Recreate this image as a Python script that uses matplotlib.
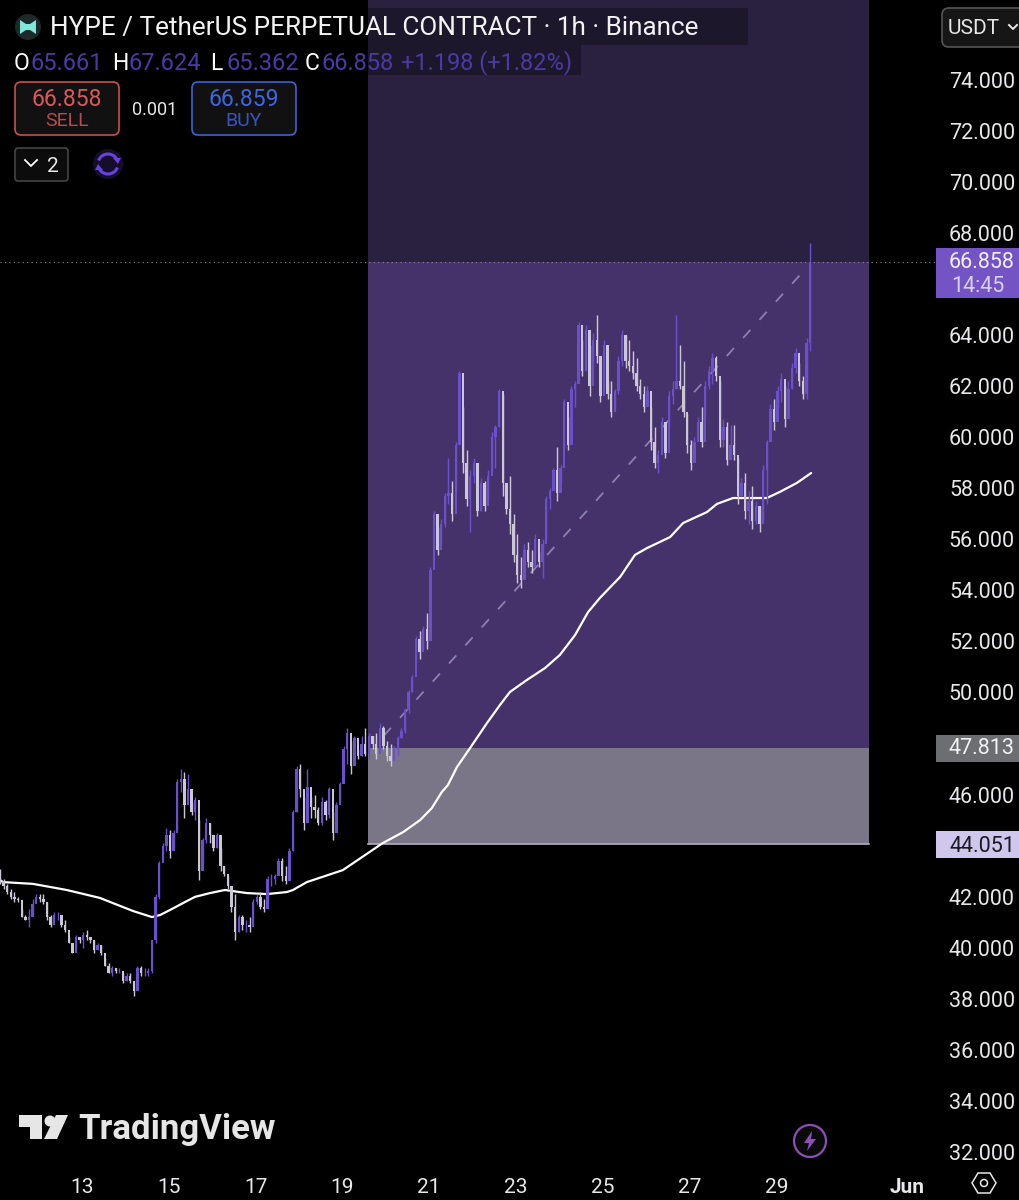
import numpy as np
import matplotlib

matplotlib.use('agg')
from matplotlib import pyplot as plt
from matplotlib.patches import Arc, Circle, FancyBboxPatch, Polygon, Rectangle

plt.rcParams['font.family'] = ['Roboto', 'DejaVu Sans']

# 2 hour bars, day of month for the first one
first_bar_day = 11.11
bar_hours = 2

highs = [
    43.1, 42.7, 42.5, 42.3, 42.2, 42.0, 41.5, 41.3, 41.5, 41.9, 42.1, 42.1, 42.1, 41.8, 41.3, 41.4, 41.4, 41.2, 41.1, 40.4,
    40.2, 40.5, 40.4, 40.6, 40.7, 40.4, 40.3, 40.2, 40.1, 39.6, 39.4, 39.3, 39.2, 39.2, 39.0, 39.0, 39.0, 38.7, 39.3, 39.3,
    39.2, 39.2, 40.3, 42.1, 43.4, 44.1, 44.7, 44.6, 44.6, 46.6, 47.0, 46.9, 46.8, 45.7, 45.9, 45.0, 44.3, 45.1, 44.9, 44.3,
    44.5, 43.9, 43.2, 42.8, 42.3, 42.1, 41.3, 41.3, 41.1, 41.2, 41.9, 42.1, 42.2, 41.9, 42.8, 42.9, 42.9, 43.5, 43.5, 43.2,
    43.9, 45.4, 47.1, 47.2, 45.9, 47.0, 45.9, 46.0, 45.5, 45.9, 45.8, 46.3, 45.3, 45.7, 46.5, 47.9, 48.6, 48.1, 48.3, 47.8,
    48.3, 48.6, 48.4, 48.3, 48.4, 48.8, 48.7, 48.1, 48.0, 47.9, 48.3, 48.6, 49.4, 50.1, 50.7, 52.2, 52.4, 52.6, 53.1,
    54.9, 57.1, 56.5, 56.8, 57.8, 59.2, 58.3, 59.8, 62.6, 61.2, 59.5, 58.7, 59.2, 58.6, 58.4, 58.3, 58.7, 60.2, 60.5, 61.9,
    61.7, 58.2, 58.5, 57.0, 56.2, 55.3, 55.8, 55.9, 55.6, 56.2, 55.5, 56.0, 57.7, 58.0, 58.8, 59.6, 58.9, 61.5, 60.8, 62.0,
    62.2, 64.5, 63.8, 64.4, 63.6, 64.1, 64.8, 63.1, 63.8, 62.2, 62.2, 61.9, 63.2, 64.2, 64.0, 63.8, 63.4, 63.1, 62.3, 62.0,
    62.0, 61.2, 60.4, 59.5, 60.8, 60.6, 61.8, 62.2, 64.8, 63.6, 63.0, 60.9, 59.9, 60.0, 60.8, 61.2, 62.2, 62.8, 63.3, 63.2,
    62.2, 60.7, 60.6, 60.5, 60.5, 59.2, 58.4, 58.6, 57.9, 58.1, 57.5, 57.3, 58.9, 59.9, 61.3, 61.5, 62.0, 62.5, 62.0, 62.2,
    62.9, 63.5, 62.9, 62.4, 63.9, 67.624,
]
lows = [
    42.5, 42.3, 42.1, 41.9, 41.8, 41.8, 41.2, 41.1, 40.8, 41.3, 41.8, 41.8, 41.7, 41.1, 40.8, 41.0, 41.1, 40.8, 40.6, 40.2,
    39.8, 40.0, 40.2, 40.0, 40.3, 40.2, 39.8, 39.9, 39.7, 39.3, 39.0, 38.9, 39.0, 39.0, 38.6, 38.7, 38.6, 38.1, 38.5, 38.9,
    38.9, 38.9, 39.0, 40.2, 41.9, 43.5, 43.8, 43.5, 43.9, 44.6, 46.1, 45.1, 45.7, 45.2, 45.0, 42.65, 43.3, 44.1, 44.1, 43.8,
    43.9, 43.0, 42.8, 42.3, 41.4, 40.3, 40.6, 40.7, 40.6, 40.6, 41.0, 41.7, 41.5, 41.4, 41.7, 42.4, 42.5, 42.9, 42.6, 42.5,
    43.1, 43.8, 45.3, 45.9, 44.6, 45.4, 45.1, 45.1, 44.8, 44.8, 45.0, 45.1, 44.2, 44.8, 45.7, 46.7, 47.2, 46.8, 47.2, 47.4,
    47.5, 47.5, 47.4, 47.8, 47.4, 48.1, 47.8, 47.3, 47.1, 47.4, 47.5, 48.2, 48.4, 49.2, 50.0, 51.3, 51.3, 51.7, 51.7,
    52.6, 55.6, 55.4, 55.8, 56.5, 57.4, 56.7, 57.9, 60.6, 58.6, 57.3, 56.3, 58.2, 56.9, 57.1, 57.1, 57.5, 58.7, 58.8, 60.4,
    57.7, 57.0, 56.2, 55.1, 54.3, 54.1, 54.6, 54.9, 54.7, 55.2, 54.9, 54.5, 56.0, 57.2, 58.1, 57.5, 58.2, 59.5, 59.5, 60.2,
    61.2, 62.5, 62.4, 62.8, 61.6, 62.9, 62.9, 61.4, 61.9, 61.5, 60.8, 61.1, 61.7, 62.8, 62.7, 62.6, 62.3, 61.8, 61.5, 61.0,
    61.3, 59.5, 58.8, 58.6, 59.6, 59.2, 60.4, 61.3, 61.9, 61.9, 60.8, 59.4, 58.7, 59.3, 59.9, 59.6, 60.8, 61.9, 62.1, 62.2,
    59.6, 59.6, 58.9, 59.5, 59.1, 57.4, 57.7, 56.8, 56.6, 56.4, 56.6, 56.3, 56.7, 57.4, 59.9, 60.3, 61.1, 61.4, 60.4, 61.3,
    61.9, 62.5, 62.0, 61.5, 61.5, 63.4,
]
closes = [
    42.6, 42.4, 42.2, 42.0, 41.9, 41.85, 41.2, 41.1, 41.2, 41.7, 42.0, 41.9, 41.8, 41.2, 40.9, 41.3, 41.3, 40.9, 40.7, 40.2,
    39.8, 40.4, 40.3, 40.5, 40.4, 40.3, 39.9, 40.1, 39.8, 39.3, 39.0, 39.2, 39.1, 39.1, 38.7, 38.9, 38.7, 38.3, 39.2, 39.0,
    39.0, 39.1, 40.3, 42.0, 43.3, 44.0, 44.4, 43.8, 44.5, 46.5, 46.6, 45.6, 46.2, 45.3, 45.8, 43.0, 44.2, 44.9, 44.4, 43.9,
    44.4, 43.2, 42.9, 42.4, 41.6, 40.6, 41.2, 40.9, 40.9, 40.8, 41.8, 42.0, 41.6, 41.5, 42.7, 42.7, 42.8, 43.4, 42.8, 42.6,
    43.8, 45.3, 47.0, 46.2, 44.9, 46.3, 45.5, 45.4, 44.9, 45.7, 45.2, 46.2, 44.5, 45.6, 46.4, 47.8, 48.4, 47.1, 48.2, 47.5,
    48.0, 47.6, 48.3, 48.0, 47.6, 48.6, 47.9, 47.5, 47.3, 47.8, 48.2, 48.5, 49.3, 50.0, 50.6, 52.1, 51.6, 52.5, 52.0,
    54.8, 57.0, 55.6, 56.6, 57.7, 57.8, 57.0, 59.7, 62.5, 59.0, 57.6, 58.5, 59.0, 57.1, 58.2, 57.3, 58.5, 60.0, 60.4, 61.8,
    58.2, 57.2, 56.6, 55.4, 54.6, 54.4, 55.6, 55.1, 54.9, 56.0, 55.1, 55.8, 57.6, 57.9, 58.7, 57.8, 58.8, 61.4, 59.7, 61.9,
    62.1, 64.4, 62.6, 64.2, 62.0, 63.8, 63.2, 61.6, 63.6, 61.7, 61.0, 61.8, 63.0, 64.0, 63.0, 62.8, 62.5, 62.0, 61.7, 61.2,
    61.8, 59.8, 59.0, 59.3, 60.6, 59.4, 61.6, 61.9, 62.2, 62.0, 61.0, 59.7, 59.0, 59.8, 60.6, 59.8, 62.0, 62.6, 63.1, 62.4,
    59.9, 60.4, 59.1, 59.7, 59.3, 57.7, 58.2, 57.1, 57.5, 56.7, 57.3, 56.6, 58.7, 59.8, 61.1, 60.6, 61.8, 62.3, 60.7, 61.9,
    62.7, 63.3, 62.2, 61.7, 63.7, 66.858,
]
first_open = 42.9

# moving average
ma_days = [11.11, 11.18, 11.87, 12.65, 13.41, 14.17, 14.61, 14.80, 15.03, 15.33, 15.60, 15.95, 16.29, 16.80, 17.26, 17.72,
           17.86, 18.18, 19.01, 19.93, 20.40, 20.79, 21.06, 21.29, 21.43, 21.64, 21.94, 22.33, 22.63, 22.86, 23.25, 23.67,
           24.01, 24.36, 24.66, 24.93, 25.40, 25.74, 26.02, 26.55, 26.85, 27.40, 27.63, 28.00, 28.78, 29.08, 29.47, 29.80]
ma_values = [42.65, 42.57, 42.50, 42.26, 41.95, 41.44, 41.20, 41.28, 41.48, 41.75, 41.99, 42.14, 42.26, 42.14, 42.10, 42.18,
             42.26, 42.57, 43.04, 44.10, 44.53, 45.00, 45.47, 46.10, 46.37, 47.08, 47.82, 48.80, 49.51, 50.02, 50.49, 50.96,
             51.47, 52.25, 53.15, 53.70, 54.53, 55.39, 55.66, 56.09, 56.64, 57.07, 57.39, 57.62, 57.62, 57.86, 58.21, 58.60]

# position tool
entry_price = 47.813
stop_price = 44.051
last_price = 66.858
position_start = 19.59
position_end = 31.13
top_price = 77.2
line_start = (19.95, 48.3)
line_end = (29.67, 66.6)

price_ticks = [74, 72, 70, 68, 64, 62, 60, 58, 56, 54, 52, 50, 46, 42, 40, 38, 36, 34, 32]
date_ticks = [13, 15, 17, 19, 21, 23, 25, 27, 29, 32]
date_labels = ['13', '15', '17', '19', '21', '23', '25', '27', '29', 'Jun']

UP = '#6a50cc'
DOWN = '#cbc7d4'
TEXT = '#e8e8ea'
DPI = 100

fig = plt.figure(figsize=(10.2, 12), dpi=DPI, facecolor='black')
ax = fig.add_axes([0, 30 / 1200, 936 / 1020, 1170 / 1200], facecolor='black')
ax.set_xlim(11.11, 11.11 + 936 / 43.4)
ax.set_ylim(74 - (1170 - 80) / 25.52, 74 + 80 / 25.52)

# zones first so the candles sit on top
ax.fill_between([position_start, position_end], last_price, top_price, color='#2a2140', lw=0, zorder=1)
ax.fill_between([position_start, position_end], entry_price, last_price, color='#46326b', lw=0, zorder=1)
ax.fill_between([position_start, position_end], stop_price, entry_price, color='#7a7688', lw=0, zorder=1)
ax.plot([position_start, position_end], [stop_price, stop_price], color='#b3b0bd', lw=1.2, zorder=1.5)
ax.plot([line_start[0], line_end[0]], [line_start[1], line_end[1]], color='#8e80b0', lw=1.3,
        dashes=(6, 7.5), zorder=1.6)
ax.axhline(last_price, color='#8f8a9c', lw=0.8, dashes=(1, 3), zorder=1.7)

ax.plot(ma_days, ma_values, color='white', lw=1.6, zorder=2, solid_capstyle='round')

times = first_bar_day + np.arange(len(closes)) * bar_hours / 24
closes_arr = np.array(closes)
opens_arr = np.concatenate([[first_open], closes_arr[:-1]])
is_up = closes_arr >= opens_arr
colors = np.where(is_up, UP, DOWN)
ax.vlines(times, lows, highs, colors=colors, lw=1.0, zorder=3)
ax.bar(times, np.abs(closes_arr - opens_arr), bottom=np.minimum(opens_arr, closes_arr), width=0.055,
       color=colors, lw=0, zorder=3)

for side in ax.spines.values():
    side.set_visible(False)
ax.yaxis.tick_right()
ax.set_yticks(price_ticks, [f'{p}.000' for p in price_ticks])
ax.set_xticks(date_ticks, date_labels)
ax.tick_params(axis='y', length=0, pad=79 * 72 / DPI, colors=TEXT, labelsize=15.5)
ax.tick_params(axis='x', length=0, pad=6, colors=TEXT, labelsize=15)
for label in ax.get_yticklabels():
    label.set_ha('right')
ax.get_xticklabels()[-1].set_fontweight('bold')

# everything from the TradingView interface goes on a pixel overlay
ui = fig.add_axes([0, 0, 1, 1], facecolor='none', zorder=5)
ui.set_xlim(0, 1020)
ui.set_ylim(1200, 0)
ui.axis('off')


def box(x0, y0, x1, y1, face, edge='none', lw=1.2, radius=6):
    ui.add_patch(FancyBboxPatch((x0, y0), x1 - x0, y1 - y0, boxstyle=f'round,pad=0,rounding_size={radius}',
                                facecolor=face, edgecolor=edge, lw=lw))


# legend backdrops
ui.add_patch(Rectangle((368, 8), 380, 37, facecolor='#1d172c', lw=0))
ui.add_patch(Rectangle((368, 45), 213, 30, facecolor='#1d172c', lw=0))

ui.add_patch(Circle((28, 27), 13, facecolor='#1c2a2a', lw=0))
ui.add_patch(Polygon([(20, 20), (26, 24), (30, 24), (36, 20), (36, 34), (30, 30), (26, 30), (20, 34)],
                     facecolor='#7fe8d8', lw=0))
ui.text(50, 28.5, 'HYPE / TetherUS PERPETUAL CONTRACT · 1h · Binance', color='#f2f2f2', fontsize=18.85,
        va='center', ha='left')

for x, letter, value in [(14, 'O', '65.661'), (112, 'H', '67.624'), (210, 'L', '65.362'), (305, 'C', '66.858')]:
    ui.text(x, 63, letter, color='white', fontsize=16.5, va='center', ha='left')
    ui.text(x + 17, 63, value, color='#4a3aa6', fontsize=17, va='center', ha='left')
ui.text(401, 63, '+1.198 (+1.82%)', color='#4a3aa6', fontsize=17, va='center', ha='left')

box(15, 82, 119, 135, '#111111', '#c9504f')
ui.text(67, 99, '66.858', color='#d9585a', fontsize=16.5, va='center', ha='center')
ui.text(67, 121, 'SELL', color='#b84c4c', fontsize=14, va='center', ha='center')
ui.text(155, 110, '0.001', color=TEXT, fontsize=13, va='center', ha='center')
box(192, 82, 296, 135, '#111111', '#3c62d8')
ui.text(244, 99, '66.859', color='#3f66e0', fontsize=16.5, va='center', ha='center')
ui.text(244, 121, 'BUY', color='#3757c0', fontsize=14, va='center', ha='center')

box(15, 148, 68, 181, '#0c0c0c', '#444444', radius=3)
ui.plot([25, 31, 37], [160, 166, 160], color='white', lw=1.3)
ui.text(53, 166, '2', color=TEXT, fontsize=15, va='center', ha='center')

ui.add_patch(Circle((108, 164), 15, facecolor='#140e2a', lw=0))
ui.add_patch(Arc((108, 164), 20, 20, theta1=200, theta2=340, edgecolor='#6a3fe0', lw=2.2))
ui.add_patch(Arc((108, 164), 20, 20, theta1=20, theta2=160, edgecolor='#6a3fe0', lw=2.2))
ui.add_patch(Polygon([(113, 158), (121, 158), (118, 164)], facecolor='#6a3fe0', lw=0))
ui.add_patch(Polygon([(95, 170), (103, 170), (98, 164)], facecolor='#6a3fe0', lw=0))

box(942, 8, 1040, 47, '#161616', '#555555', radius=7)
ui.text(948, 29, 'USDT', color=TEXT, fontsize=15, va='center', ha='left')
ui.plot([1009, 1013, 1017], [25, 29, 25], color=TEXT, lw=1.4)

# price labels on the scale
ui.add_patch(Rectangle((936, 248), 84, 50, facecolor='#7454c4', lw=0))
ui.text(1015, 263, '66.858', color='#f2eefc', fontsize=15.5, va='center', ha='right')
ui.text(951, 286, '14:45', color='#d9cff5', fontsize=15.5, va='center', ha='left')
ui.add_patch(Rectangle((936, 735), 84, 27, facecolor='#6d6e72', lw=0))
ui.text(1015, 749, '47.813', color='#f2f2f2', fontsize=15.5, va='center', ha='right')
ui.add_patch(Rectangle((936, 831), 84, 27, facecolor='#cfc8ec', lw=0))
ui.text(1015, 846, '44.051', color='#1a1a22', fontsize=15.5, va='center', ha='right')

# TradingView logo
ui.add_patch(Polygon([(19, 1115), (42, 1115), (42, 1139), (30, 1139), (30, 1127), (19, 1127)],
                     facecolor='#e6e6e6', lw=0))
ui.add_patch(Circle((50, 1121), 5.5, facecolor='#e6e6e6', lw=0))
ui.add_patch(Polygon([(56, 1115), (68, 1115), (57, 1139), (44, 1139)], facecolor='#e6e6e6', lw=0))
ui.text(78, 1130, 'TradingView', color='#e6e6e6', fontsize=25, fontweight='bold', va='center', ha='left')

# bolt button and settings hexagon
ui.add_patch(Circle((810, 1141), 16, facecolor='#0a0a0a', edgecolor='#8a4fb8', lw=1.6))
ui.add_patch(Polygon([(812, 1131), (804, 1143), (809, 1143), (807, 1151), (816, 1139), (811, 1139)],
                     facecolor='#8a4fb8', lw=0))
ui.add_patch(Polygon([(972, 1183), (978, 1173), (990, 1173), (996, 1183), (990, 1193), (978, 1193)],
                     facecolor='none', edgecolor=TEXT, lw=1.1))
ui.add_patch(Circle((984, 1183), 3.5, facecolor='none', edgecolor=TEXT, lw=1.1))

fig.savefig('out.png', dpi=DPI, facecolor='black')
